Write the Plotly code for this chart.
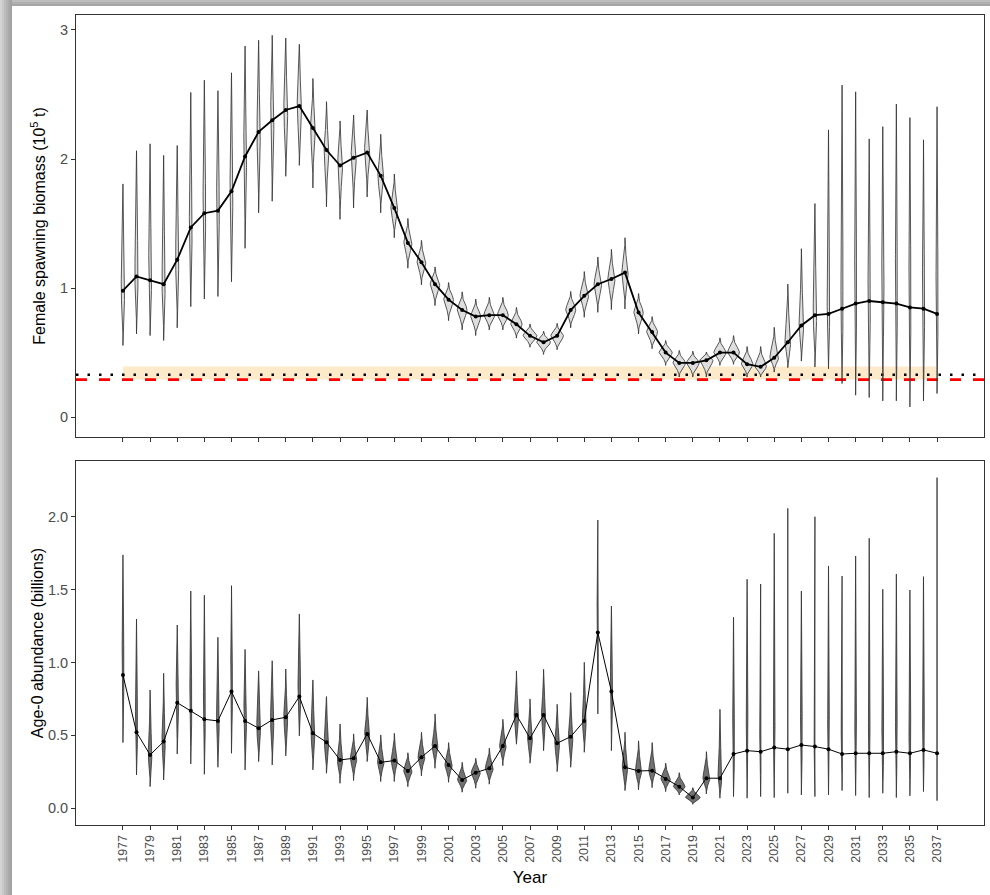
import numpy as np
import plotly.graph_objects as go

years = list(range(1977, 2038))
tick_years = list(range(1977, 2038, 2))

# Female spawning biomass (10^5 t): median, lower and upper extent of distribution
ssb_med = [0.98, 1.09, 1.06, 1.03, 1.22, 1.47, 1.58, 1.60, 1.75, 2.02, 2.21, 2.30, 2.38, 2.41,
           2.24, 2.07, 1.95, 2.01, 2.05, 1.87, 1.62, 1.35, 1.20, 1.03, 0.91, 0.83, 0.78, 0.79,
           0.79, 0.72, 0.63, 0.58, 0.63, 0.83, 0.94, 1.03, 1.07, 1.12, 0.81, 0.66, 0.50, 0.42,
           0.42, 0.44, 0.50, 0.50, 0.41, 0.39, 0.46, 0.58, 0.71, 0.79, 0.80, 0.84, 0.88, 0.90,
           0.89, 0.88, 0.85, 0.84, 0.80]
ssb_lo = [0.555, 0.645, 0.632, 0.594, 0.692, 0.856, 0.915, 0.935, 1.049, 1.308, 1.583, 1.673,
          1.866, 1.951, 1.776, 1.629, 1.532, 1.621, 1.706, 1.583, 1.39, 1.154, 1.025, 0.864,
          0.748, 0.676, 0.632, 0.676, 0.676, 0.612, 0.542, 0.486, 0.522, 0.692, 0.774, 0.812,
          0.833, 0.838, 0.645, 0.53, 0.401, 0.311, 0.311, 0.311, 0.401, 0.409, 0.311, 0.311,
          0.349, 0.383, 0.434, 0.388, 0.375, 0.26, 0.17, 0.152, 0.126, 0.126, 0.079, 0.126, 0.183]
ssb_hi = [1.807, 2.064, 2.118, 2.028, 2.105, 2.516, 2.611, 2.529, 2.668, 2.876, 2.92, 2.958,
          2.938, 2.889, 2.624, 2.444, 2.295, 2.341, 2.38, 2.192, 1.884, 1.54, 1.37, 1.164,
          1.043, 0.971, 0.915, 0.928, 0.928, 0.85, 0.722, 0.666, 0.727, 0.974, 1.128, 1.241,
          1.3, 1.39, 0.958, 0.779, 0.594, 0.517, 0.511, 0.504, 0.614, 0.632, 0.547, 0.547,
          0.696, 1.031, 1.305, 1.655, 2.226, 2.573, 2.521, 2.156, 2.251, 2.426, 2.321, 2.149, 2.405]

# Age-0 abundance (billions)
rec_med = [0.914, 0.521, 0.366, 0.457, 0.724, 0.669, 0.61, 0.599, 0.8, 0.599, 0.549, 0.606,
           0.624, 0.766, 0.514, 0.453, 0.331, 0.343, 0.51, 0.315, 0.327, 0.256,
           0.35, 0.427, 0.297, 0.194, 0.244, 0.274, 0.427, 0.64, 0.48, 0.64, 0.446, 0.491,
           0.599, 1.205, 0.8, 0.281, 0.256, 0.258, 0.201, 0.148, 0.073,
           0.206, 0.206, 0.372, 0.395, 0.388, 0.416, 0.405, 0.434, 0.423, 0.405, 0.372, 0.377,
           0.377, 0.377, 0.388, 0.377, 0.4, 0.377]
rec_lo = [0.45, 0.228, 0.148, 0.194, 0.372, 0.304, 0.233, 0.281, 0.377, 0.263, 0.32, 0.297,
          0.359, 0.496, 0.263, 0.24, 0.171, 0.19, 0.32, 0.183, 0.183, 0.148,
          0.222, 0.274, 0.178, 0.11, 0.137, 0.165, 0.292, 0.439, 0.309, 0.395, 0.251, 0.281,
          0.384, 0.647, 0.395, 0.121, 0.126, 0.141, 0.114, 0.091, 0.027,
          0.098, 0.069, 0.08, 0.069, 0.08, 0.073, 0.103, 0.091, 0.08, 0.091, 0.121, 0.087,
          0.073, 0.103, 0.073, 0.085, 0.114, 0.052]
rec_hi = [1.738, 1.298, 0.811, 0.926, 1.257, 1.49, 1.461, 1.173, 1.527, 1.09, 0.942, 1.012,
          0.955, 1.333, 0.88, 0.766, 0.578, 0.51, 0.761, 0.503, 0.514, 0.381,
          0.521, 0.647, 0.45, 0.315, 0.343, 0.412, 0.61, 0.942, 0.75, 0.953, 0.713, 0.793,
          1.001, 1.977, 1.387, 0.521, 0.462, 0.45, 0.309, 0.244, 0.141,
          0.388, 0.679, 1.31, 1.571, 1.538, 1.886, 2.057, 1.49, 2.0, 1.662, 1.593, 1.73,
          1.852, 1.502, 1.607, 1.497, 1.589, 2.268]

# Reference points (10^5 t)
ref_dotted = 0.329
ref_red = 0.291
band_lo, band_hi = 0.291, 0.393

FONT = "Liberation Sans, Arial, sans-serif"
xrange = [1973.54, 2040.46]


def violin_path(xs, lo, med, hi, k, p):
    t = np.linspace(0, 1, 50)
    prof = np.exp(-4.5 * t ** 2)
    px, py = [], []
    for x, l, m, h in zip(xs, lo, med, hi):
        w = k / (h - l) ** p
        up = m + t * (h - m)
        dn = m - t * (m - l)
        ry = np.concatenate([up[::-1], dn[1:]])
        rw = np.concatenate([prof[::-1], prof[1:]]) * w
        poly_x = np.concatenate([x + rw, (x - rw)[::-1]])
        poly_y = np.concatenate([ry, ry[::-1]])
        px += list(poly_x) + [None]
        py += list(poly_y) + [None]
    return px, py


fig = go.Figure()

# reference lines (drawn above the shaded band, beneath the violins)
fig.add_trace(go.Scatter(x=xrange, y=[ref_dotted, ref_dotted], mode="lines",
                         line=dict(color="black", width=2.5, dash="2.5px,9px"),
                         xaxis="x", yaxis="y", hoverinfo="skip", showlegend=False))
fig.add_trace(go.Scatter(x=xrange, y=[ref_red, ref_red], mode="lines",
                         line=dict(color="#FF0000", width=2.8, dash="11px,12px"),
                         xaxis="x", yaxis="y", hoverinfo="skip", showlegend=False))

vx, vy = violin_path(years, ssb_lo, ssb_med, ssb_hi, 0.152, 0.7)
fig.add_trace(go.Scatter(x=vx, y=vy, mode="lines", fill="toself", fillcolor="#dedede",
                         line=dict(color="#303030", width=0.8), xaxis="x", yaxis="y",
                         hoverinfo="skip", showlegend=False))
fig.add_trace(go.Scatter(x=years, y=ssb_med, mode="lines+markers",
                         line=dict(color="black", width=1.8),
                         marker=dict(color="black", size=4), xaxis="x", yaxis="y",
                         showlegend=False))

vx2, vy2 = violin_path(years, rec_lo, rec_med, rec_hi, 0.095, 0.8)
fig.add_trace(go.Scatter(x=vx2, y=vy2, mode="lines", fill="toself", fillcolor="#727272",
                         line=dict(color="#2e2e2e", width=0.8), xaxis="x2", yaxis="y2",
                         hoverinfo="skip", showlegend=False))
fig.add_trace(go.Scatter(x=years, y=rec_med, mode="lines+markers",
                         line=dict(color="black", width=1),
                         marker=dict(color="black", size=4), xaxis="x2", yaxis="y2",
                         showlegend=False))

shapes = [
    dict(type="rect", xref="x", yref="y", x0=years[0], x1=years[-1], y0=band_lo, y1=band_hi,
         fillcolor="#FCEACB", line=dict(width=0), layer="below"),
]

# screenshot frame (gray strips at left and top)
W, H = 990, 895
L, R, T, B = 76, 6, 15, 70
pw, ph = W - L - R, H - T - B


def px2x(x):
    return (x - L) / pw


def px2y(y):
    return (H - B - y) / ph


left_cols = ["#d4d4d4", "#c8c8c8", "#bdbdbd", "#b3b3b3", "#aaaaaa", "#a2a2a2"]
for i, c in enumerate(left_cols):
    shapes.append(dict(type="rect", xref="paper", yref="paper",
                       x0=px2x(i * 2), x1=px2x(i * 2 + 2), y0=px2y(H), y1=px2y(0),
                       fillcolor=c, line=dict(width=0), layer="above"))
top_cols = ["#bdbdbd", "#b0b0b0", "#a6a6a6"]
for i, c in enumerate(top_cols):
    shapes.append(dict(type="rect", xref="paper", yref="paper",
                       x0=px2x(12), x1=px2x(W), y0=px2y(i * 2 + 2), y1=px2y(i * 2),
                       fillcolor=c, line=dict(width=0), layer="above"))

axis_common = dict(showline=True, linecolor="#333333", linewidth=1, mirror=True,
                   ticks="outside", ticklen=4, tickcolor="#333333", showgrid=False,
                   zeroline=False)

fig.update_layout(
    width=W, height=H,
    margin=dict(l=L, r=R, t=T, b=B),
    paper_bgcolor="white", plot_bgcolor="white",
    font=dict(family=FONT, color="black"),
    shapes=shapes,
    xaxis=dict(domain=[0, 1], range=xrange, anchor="y", tickvals=tick_years,
               showticklabels=False, **axis_common),
    xaxis2=dict(domain=[0, 1], range=xrange, anchor="y2", tickvals=tick_years,
                ticktext=[str(y) for y in tick_years], tickangle=-90,
                tickfont=dict(size=12.5, color="#4d4d4d", family=FONT),
                title=dict(text="Year", font=dict(size=17, color="black"), standoff=9),
                **axis_common),
    yaxis=dict(domain=[px2y(437), 1], range=[-0.154, 3.116], anchor="x",
               tickvals=[0, 1, 2, 3], ticktext=["0", "1", "2", "3"],
               tickfont=dict(size=14.5, color="#4d4d4d", family=FONT),
               title=dict(text="Female spawning biomass (10<sup>5</sup> t)",
                          font=dict(size=16, color="black"), standoff=10),
               **axis_common),
    yaxis2=dict(domain=[0, px2y(461)], range=[-0.115, 2.382], anchor="x2",
                tickvals=[0, 0.5, 1.0, 1.5, 2.0], ticktext=["0.0", "0.5", "1.0", "1.5", "2.0"],
                tickfont=dict(size=14.5, color="#4d4d4d", family=FONT),
                title=dict(text="Age-0 abundance (billions)",
                           font=dict(size=16, color="black"), standoff=0),
                **axis_common),
)

fig.write_html("out.html", config={"displayModeBar": False},
               post_script="document.body.style.margin='0';")
